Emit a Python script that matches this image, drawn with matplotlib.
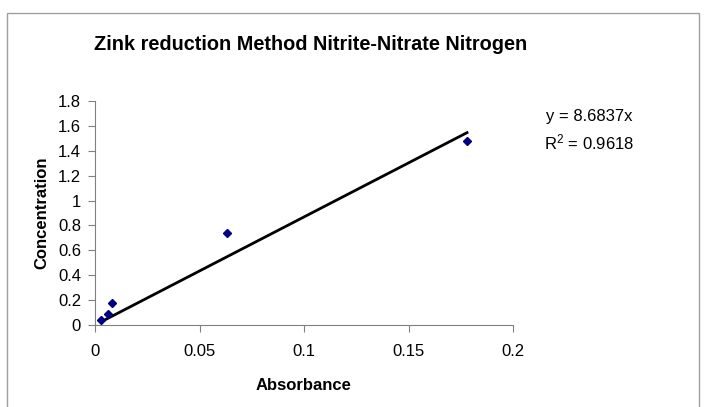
import numpy as np
import matplotlib.pyplot as plt
from matplotlib.patches import Rectangle
from matplotlib.ticker import FuncFormatter

plt.rcParams['font.family'] = ['Liberation Sans', 'DejaVu Sans']

# data
absorbance = [0.003, 0.006, 0.008, 0.063, 0.178]
concentration = [0.04, 0.09, 0.18, 0.74, 1.48]
slope = 8.6837
r_squared = 0.9618

fig = plt.figure(figsize=(7.09, 4.07), dpi=100)

# chart area border
fig.patches.append(Rectangle((7 / 709, -0.01), 692 / 709, 1 - 13 / 407 + 0.01,
                             transform=fig.transFigure, fill=False,
                             edgecolor='#a0a0a0', linewidth=1))

ax = fig.add_axes([95 / 709, 1 - 325 / 407, 418 / 709, 224 / 407])

# trendline through origin
x_fit = np.array([min(absorbance), max(absorbance)])
ax.plot(x_fit, slope * x_fit, color='black', linewidth=2, zorder=2)
ax.plot(absorbance, concentration, linestyle='none', marker='D',
        markersize=4.5, color='#000080', zorder=3)

ax.set_xlim(0, 0.2)
ax.set_ylim(0, 1.8)
ax.set_xticks(np.arange(0, 0.21, 0.05))
ax.set_yticks(np.arange(0, 1.81, 0.2))
ax.xaxis.set_major_formatter(FuncFormatter(lambda v, p: '%g' % round(v, 3)))
ax.yaxis.set_major_formatter(FuncFormatter(lambda v, p: '%g' % round(v, 2)))

for s in ['top', 'right']:
    ax.spines[s].set_visible(False)
for s in ['left', 'bottom']:
    ax.spines[s].set_color('#808080')
ax.tick_params(direction='out', length=5, color='#808080', labelsize=12,
               pad=5)
ax.tick_params(axis='x', pad=9)

ax.set_xlabel('Absorbance', fontsize=12, fontweight='bold', labelpad=13)
ax.set_ylabel('Concentration', fontsize=12, fontweight='bold', labelpad=6)

fig.text(311 / 709, 1 - 45 / 407,
         'Zink reduction Method Nitrite-Nitrate Nitrogen',
         ha='center', va='center', fontsize=14.3, fontweight='bold')

fig.text(589 / 709, 1 - 117 / 407, 'y = %.4fx' % slope,
         ha='center', va='center', fontsize=12)
fig.text(589 / 709, 1 - 142 / 407, '$\\mathregular{R^2}$ = %.4f' % r_squared,
         ha='center', va='center', fontsize=12)

fig.savefig('out.png', dpi=100)
